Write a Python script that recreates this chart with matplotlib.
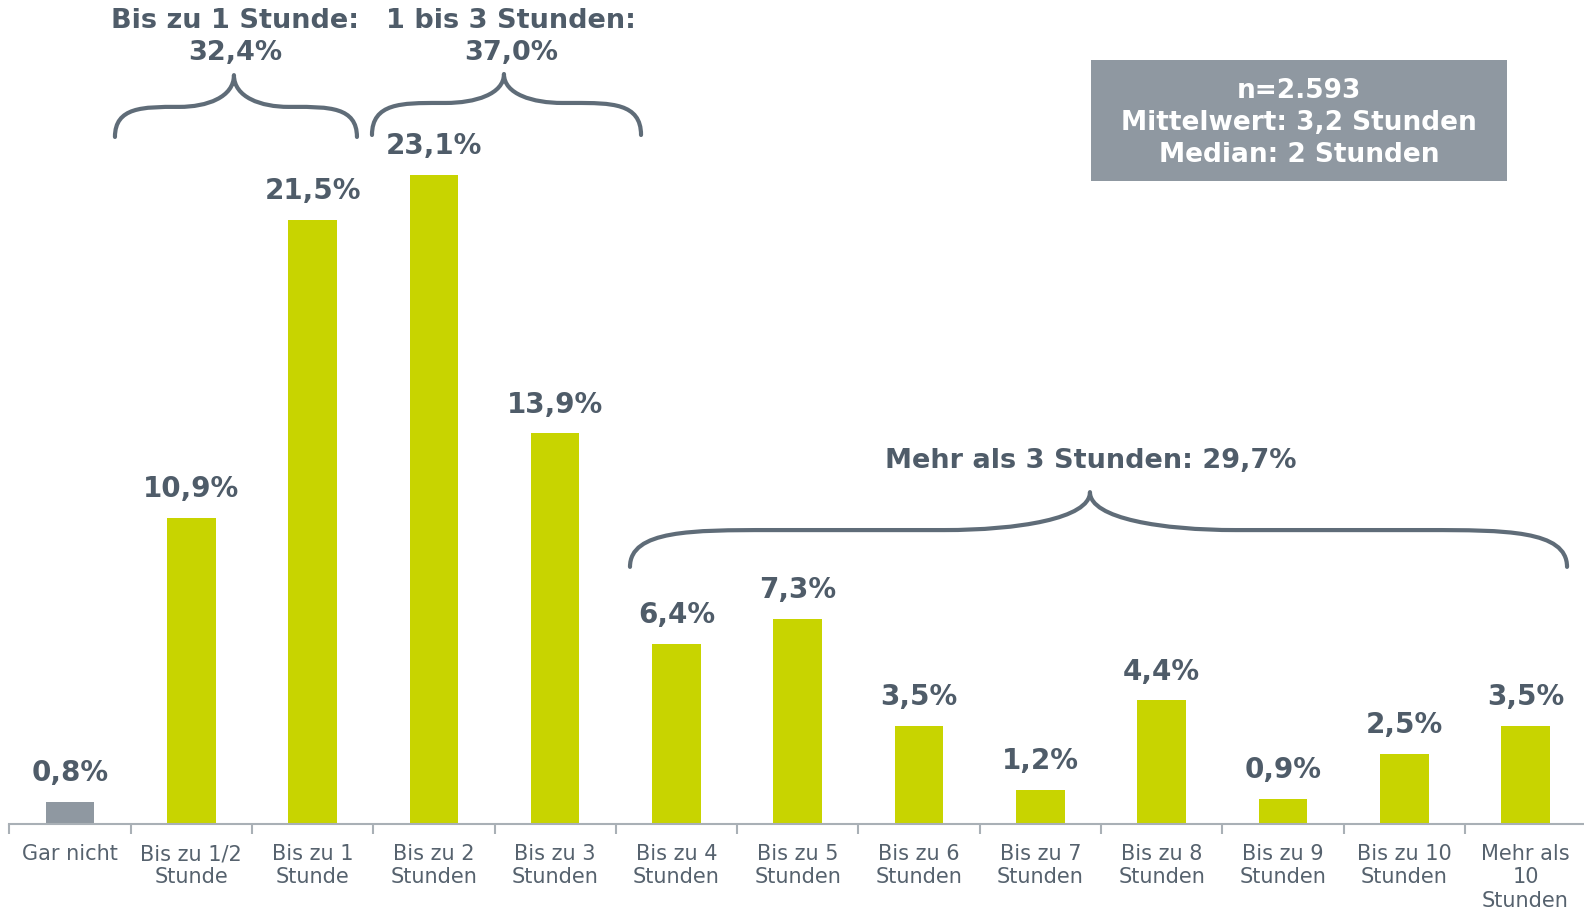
import matplotlib
matplotlib.use("Agg")
import matplotlib.pyplot as plt
from matplotlib.path import Path
from matplotlib.patches import PathPatch, Rectangle

# ---------------- data ----------------
categories = ["Gar nicht", "Bis zu 1/2\nStunde", "Bis zu 1\nStunde", "Bis zu 2\nStunden",
              "Bis zu 3\nStunden", "Bis zu 4\nStunden", "Bis zu 5\nStunden", "Bis zu 6\nStunden",
              "Bis zu 7\nStunden", "Bis zu 8\nStunden", "Bis zu 9\nStunden", "Bis zu 10\nStunden",
              "Mehr als\n10\nStunden"]
values = [0.8, 10.9, 21.5, 23.1, 13.9, 6.4, 7.3, 3.5, 1.2, 4.4, 0.9, 2.5, 3.5]
group_labels = ["Bis zu 1 Stunde:\n32,4%", "1 bis 3 Stunden:\n37,0%", "Mehr als 3 Stunden: 29,7%"]
info_text = "n=2.593\nMittelwert: 3,2 Stunden\nMedian: 2 Stunden"

# ---------------- style ----------------
GREEN = "#c8d400"
GRAY_BAR = "#8f98a1"
TXT = "#4f5c69"
TICK_TXT = "#56626e"
BRACE = "#5f6c78"
AXIS = "#a9b0b6"

W, H = 1584, 914
X0, CW, BASE, PPU = 9.3, 121.3, 824, 28.1

fig = plt.figure(figsize=(W / 100, H / 100), dpi=100)
ax = fig.add_axes([X0 / W, (H - BASE) / H, 13 * CW / W, BASE / H])
ax.set_xlim(-0.5, 12.5)
ax.set_ylim(0, BASE / PPU)

x = list(range(len(values)))
colors = [GRAY_BAR] + [GREEN] * (len(values) - 1)
ax.bar(x, values, width=0.4, color=colors, zorder=2)

for xi, v in zip(x, values):
    lab = f"{v:.1f}%".replace(".", ",")
    ax.annotate(lab, (xi, v), xytext=(0, 15), textcoords="offset points",
                ha="center", va="baseline", fontsize=20, fontweight="bold", color=TXT)

for s in ["top", "right", "left"]:
    ax.spines[s].set_visible(False)
ax.spines["bottom"].set_color(AXIS)
ax.spines["bottom"].set_linewidth(1.5)
ax.set_yticks([])
ax.set_xticks(x)
ax.set_xticklabels(categories, fontsize=15, color=TICK_TXT)
for lbl in ax.get_xticklabels():
    lbl.set_linespacing(1.2)
ax.tick_params(axis="x", which="major", length=0, pad=14.5)
ax.set_xticks([i - 0.5 for i in range(len(values) + 1)], minor=True)
ax.tick_params(axis="x", which="minor", length=7, width=1.5, color=AXIS, direction="out")


def brace(x0, x1, xc, ye, yf, yp, r_end, r_mid):
    k = 0.3 * (yp - yf)
    verts = [
        (x0, ye), (x0, yf), (x0 + 0.45 * r_end, yf), (x0 + r_end, yf),
        (xc - r_mid, yf),
        (xc - 0.5 * r_mid, yf), (xc, yf + k), (xc, yp),
        (xc, yf + k), (xc + 0.5 * r_mid, yf), (xc + r_mid, yf),
        (x1 - r_end, yf),
        (x1 - 0.45 * r_end, yf), (x1, yf), (x1, ye),
    ]
    codes = [Path.MOVETO, Path.CURVE4, Path.CURVE4, Path.CURVE4,
             Path.LINETO,
             Path.CURVE4, Path.CURVE4, Path.CURVE4,
             Path.CURVE4, Path.CURVE4, Path.CURVE4,
             Path.LINETO,
             Path.CURVE4, Path.CURVE4, Path.CURVE4]
    p = PathPatch(Path(verts, codes), fill=False, edgecolor=BRACE, lw=3,
                  capstyle="round", joinstyle="round", clip_on=False, zorder=3)
    ax.add_patch(p)


brace(0.371, 2.366, 1.352, 24.45, 25.52, 26.65, 0.52, 0.45)
brace(2.490, 4.708, 3.578, 24.52, 25.66, 26.69, 0.55, 0.48)
brace(4.617, 12.342, 8.409, 9.15, 10.46, 11.81, 1.15, 1.2)

# group labels (figure pixel coordinates)
def fx(px):
    return px / W

def fy(py):
    return 1 - py / H

fig.text(fx(235), fy(37), group_labels[0], ha="center", va="center", fontsize=19.5,
         fontweight="bold", color=TXT, linespacing=1.25)
fig.text(fx(511), fy(37), group_labels[1], ha="center", va="center", fontsize=19.5,
         fontweight="bold", color=TXT, linespacing=1.25)
fig.text(fx(1091), fy(461), group_labels[2], ha="center", va="center", fontsize=19.5,
         fontweight="bold", color=TXT)

# info box
fig.patches.append(Rectangle((fx(1091), fy(181)), (1507 - 1091) / W, (181 - 60) / H,
                             transform=fig.transFigure, facecolor=GRAY_BAR, edgecolor="none"))
fig.text(fx(1299), fy(123), info_text, ha="center", va="center", fontsize=19,
         fontweight="bold", color="white", linespacing=1.32)

fig.savefig("out.png", dpi=100, facecolor="white")
